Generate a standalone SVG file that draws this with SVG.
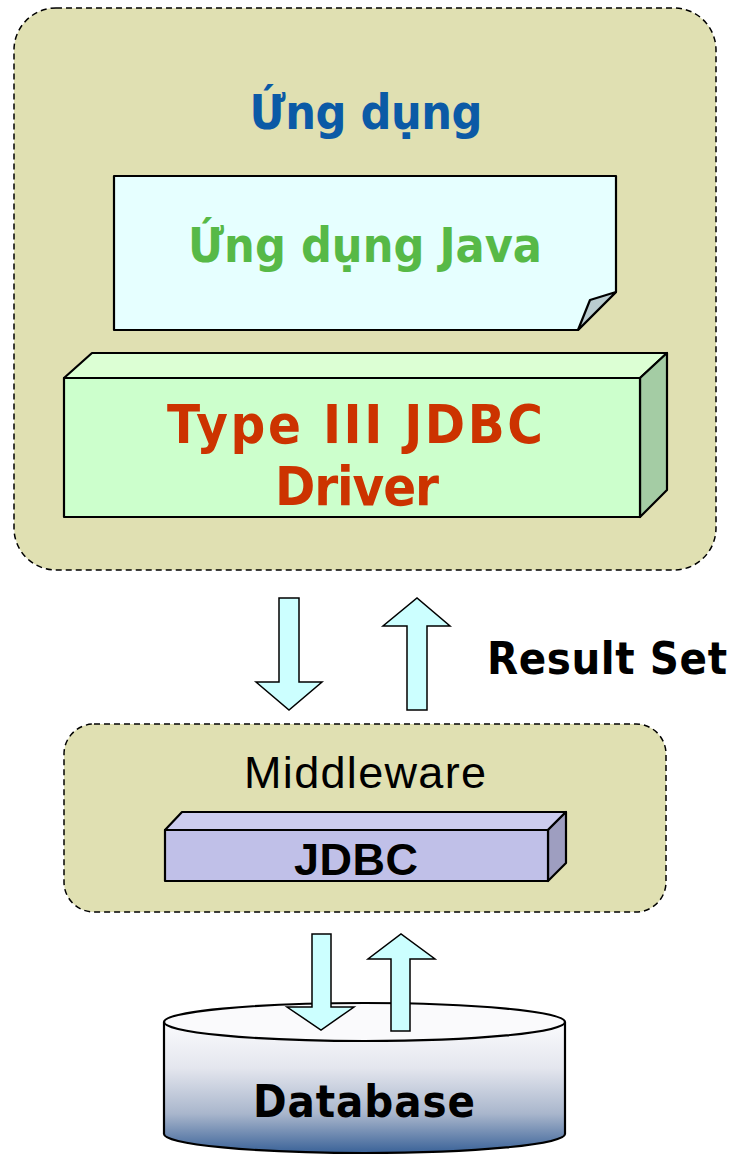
<svg xmlns="http://www.w3.org/2000/svg" width="736" height="1155" viewBox="0 0 736 1155">
<defs>
<linearGradient id="dbg" x1="0" y1="0" x2="0" y2="1">
<stop offset="0" stop-color="#fbfbfd"/>
<stop offset="0.35" stop-color="#e4e6ee"/>
<stop offset="0.7" stop-color="#a9b6cc"/>
<stop offset="1" stop-color="#3a6298"/>
</linearGradient>
</defs>
<style>
.cont{fill:#e0e0b2;stroke:#000;stroke-width:1.5;stroke-dasharray:6 4}
.ln{stroke:#000;stroke-width:2.2;stroke-linejoin:round}
.arr{fill:#ccffff;stroke:#000;stroke-width:1.5;stroke-linejoin:miter}
.b{font-family:"DejaVu Sans","Liberation Sans",sans-serif;font-stretch:condensed;font-weight:bold;text-anchor:middle}
.r{font-family:"Liberation Sans",Arial,sans-serif;text-anchor:middle}
</style>
<rect width="736" height="1155" fill="#fff"/>
<g id="app">
<rect class="cont" x="14" y="8" width="702" height="562" rx="42" ry="42"/>
<text class="b" x="366" y="129" font-size="48" fill="#0b5aa6" textLength="233">Ứng dụng</text>
</g>
<g id="java">
<path class="ln" d="M114,176 H616 V292 L578,330 H114 Z" fill="#e6ffff"/>
<path class="ln" d="M616,292 L590,300 L578,330 Z" fill="#b9ccd0" stroke-width="1.5"/>
<text class="b" x="365" y="262" font-size="48" fill="#57b947" textLength="354">Ứng dụng Java</text>
</g>
<g id="driver">
<path class="ln" d="M64,378 L92,353 H667 L640,378 Z" fill="#dcffd4"/>
<path class="ln" d="M640,378 L667,353 V490 L640,517 Z" fill="#a4cca4"/>
<rect class="ln" x="64" y="378" width="576" height="139" fill="#ccffcc"/>
<text class="b" x="355" y="443" font-size="54" fill="#cc3300" textLength="376">Type III JDBC</text>
<text class="b" x="357" y="505" font-size="54" fill="#cc3300" textLength="164">Driver</text>
</g>
<g id="connectors">
<path class="arr" d="M279,598 H299 V682 H322 L289,710 L256,682 H279 Z"/>
<path class="arr" d="M407,710 H427 V626 H450 L417,598 L383,626 H407 Z"/>
</g>
<text id="resultset" class="b" x="607" y="674" font-size="45" fill="#000" textLength="240">Result Set</text>
<g id="middleware">
<rect class="cont" x="64" y="724" width="602" height="188" rx="30" ry="30"/>
<text class="r" x="365" y="788" font-size="45" fill="#000" textLength="242">Middleware</text>
</g>
<g id="jdbc">
<path class="ln" d="M165,830 L182,812 H566 L548,830 Z" fill="#ccccee" stroke-width="1.8"/>
<path class="ln" d="M548,830 L566,812 V863 L548,881 Z" fill="#9e9ec0" stroke-width="1.8"/>
<rect class="ln" x="165" y="830" width="383" height="51" fill="#c0c0e8" stroke-width="1.8"/>
<text class="r" x="356" y="875" font-size="45" font-weight="bold" fill="#000" textLength="124">JDBC</text>
</g>
<g id="database">
<path class="ln" d="M164,1022 V1134 A200.5,19 0 0 0 565,1134 V1022" fill="url(#dbg)" stroke-width="1.8"/>
<ellipse class="ln" cx="364.5" cy="1022" rx="200.5" ry="19" fill="#fafafc" stroke-width="1.8"/>
<text class="b" x="364" y="1117" font-size="45" fill="#000" textLength="222">Database</text>
</g>
<g id="connectors2">
<path class="arr" d="M312,934 H331 V1007 H354 L321,1030 L287,1007 H312 Z"/>
<path class="arr" d="M391,1031 H410 V959 H435 L401,934 L368,959 H391 Z"/>
</g>
</svg>
